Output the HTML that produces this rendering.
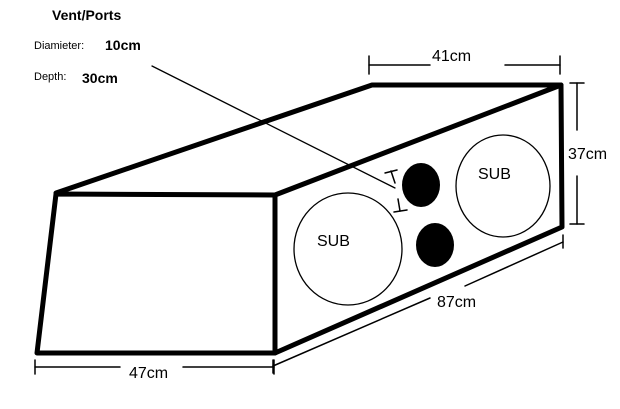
<!DOCTYPE html>
<html><head><meta charset="utf-8"><style>
html,body{margin:0;padding:0;background:#fff;}
svg{display:block;}
text{font-family:"Liberation Sans",Arial,sans-serif;fill:#000;}
</style></head><body>
<svg width="620" height="409" viewBox="0 0 620 409" xmlns="http://www.w3.org/2000/svg">
<rect width="620" height="409" fill="#fff"/>
<text x="52" y="20" font-size="14" font-weight="bold">Vent/Ports</text>
<text x="34" y="49" font-size="11">Diamieter:</text>
<text x="105" y="50" font-size="14" font-weight="bold">10cm</text>
<text x="34" y="80" font-size="11">Depth:</text>
<text x="82" y="83" font-size="14" font-weight="bold">30cm</text>
<g stroke="#000" fill="none" stroke-linecap="round" stroke-linejoin="round">
<line x1="152" y1="66" x2="395" y2="188" stroke-width="1.3"/>
<g stroke-width="5">
<polygon points="56,194 275,195 275,353 37,353"/>
<polyline points="56,193 372,85 561,85 562,227 275,353"/>
<line x1="275" y1="195" x2="561" y2="85"/>
</g>
<ellipse cx="348" cy="249" rx="54" ry="56" stroke-width="1.3"/>
<ellipse cx="503" cy="186" rx="47" ry="51" stroke-width="1.3"/>
<g stroke-width="1.5">
<line x1="385" y1="173" x2="397" y2="170"/><line x1="391" y1="171" x2="395" y2="183"/>
<line x1="398" y1="199" x2="400" y2="211"/><line x1="394" y1="212" x2="407" y2="210"/>
<!-- 41cm -->
<line x1="369" y1="65" x2="430" y2="65"/><line x1="505" y1="65" x2="560" y2="65"/>
<line x1="369" y1="56" x2="369" y2="74"/><line x1="560" y1="56" x2="560" y2="74"/>
<!-- 37cm -->
<line x1="577" y1="83" x2="577" y2="130"/><line x1="577" y1="176" x2="577" y2="224"/>
<line x1="570" y1="83" x2="584" y2="83"/><line x1="570" y1="224" x2="584" y2="224"/>
<!-- 87cm -->
<line x1="273" y1="366" x2="430" y2="298"/><line x1="465" y1="286" x2="563" y2="242"/>
<line x1="273" y1="360" x2="273" y2="373"/><line x1="563" y1="235" x2="563" y2="248"/>
<!-- 47cm -->
<line x1="35" y1="367" x2="120" y2="367"/><line x1="183" y1="367" x2="274" y2="367"/>
<line x1="35" y1="360" x2="35" y2="374"/><line x1="274" y1="360" x2="274" y2="374"/>
</g>
</g>
<ellipse cx="421" cy="185" rx="19" ry="22" fill="#000"/>
<ellipse cx="435" cy="245" rx="19" ry="22" fill="#000"/>
<text x="317" y="246" font-size="16">SUB</text>
<text x="478" y="179" font-size="16">SUB</text>
<text x="432" y="61" font-size="16">41cm</text>
<text x="568" y="159" font-size="16">37cm</text>
<text x="437" y="307" font-size="16">87cm</text>
<text x="129" y="378" font-size="16">47cm</text>
</svg>
</body></html>
